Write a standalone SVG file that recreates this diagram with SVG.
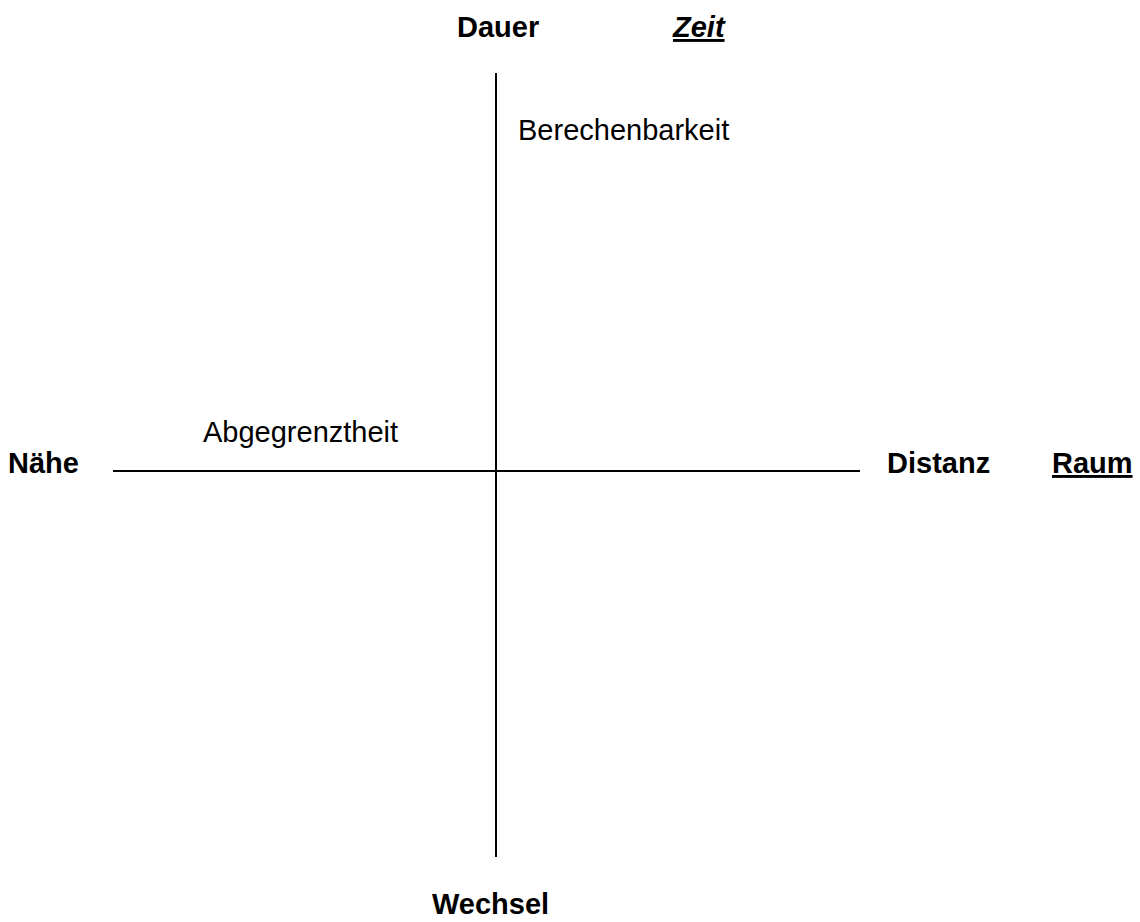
<svg xmlns="http://www.w3.org/2000/svg" width="1140" height="922" viewBox="0 0 1140 922">
<style>
.b{font-family:"Liberation Sans",Arial,sans-serif;font-weight:bold;font-size:29px;fill:#000}
.r{font-family:"Liberation Sans",Arial,sans-serif;font-size:29px;fill:#000}
.ax{stroke:#000;stroke-width:2;fill:none}
</style>
<rect width="1140" height="922" fill="#fff"/>
<g id="connectors">
<line class="ax" x1="496" y1="73" x2="496" y2="857"/>
<line class="ax" x1="113" y1="471" x2="860" y2="471"/>
</g>
<g id="dauer"><text class="b" x="457" y="37">Dauer</text></g>
<g id="zeit"><text class="b" x="673" y="37" font-style="italic" text-decoration="underline">Zeit</text></g>
<g id="berechenbarkeit"><text class="r" x="518" y="140">Berechenbarkeit</text></g>
<g id="abgegrenztheit"><text class="r" x="203" y="442">Abgegrenztheit</text></g>
<g id="naehe"><text class="b" x="8" y="473">Nähe</text></g>
<g id="distanz"><text class="b" x="887" y="473">Distanz</text></g>
<g id="raum"><text class="b" x="1052" y="473" text-decoration="underline">Raum</text></g>
<g id="wechsel"><text class="b" x="432" y="914">Wechsel</text></g>
</svg>
